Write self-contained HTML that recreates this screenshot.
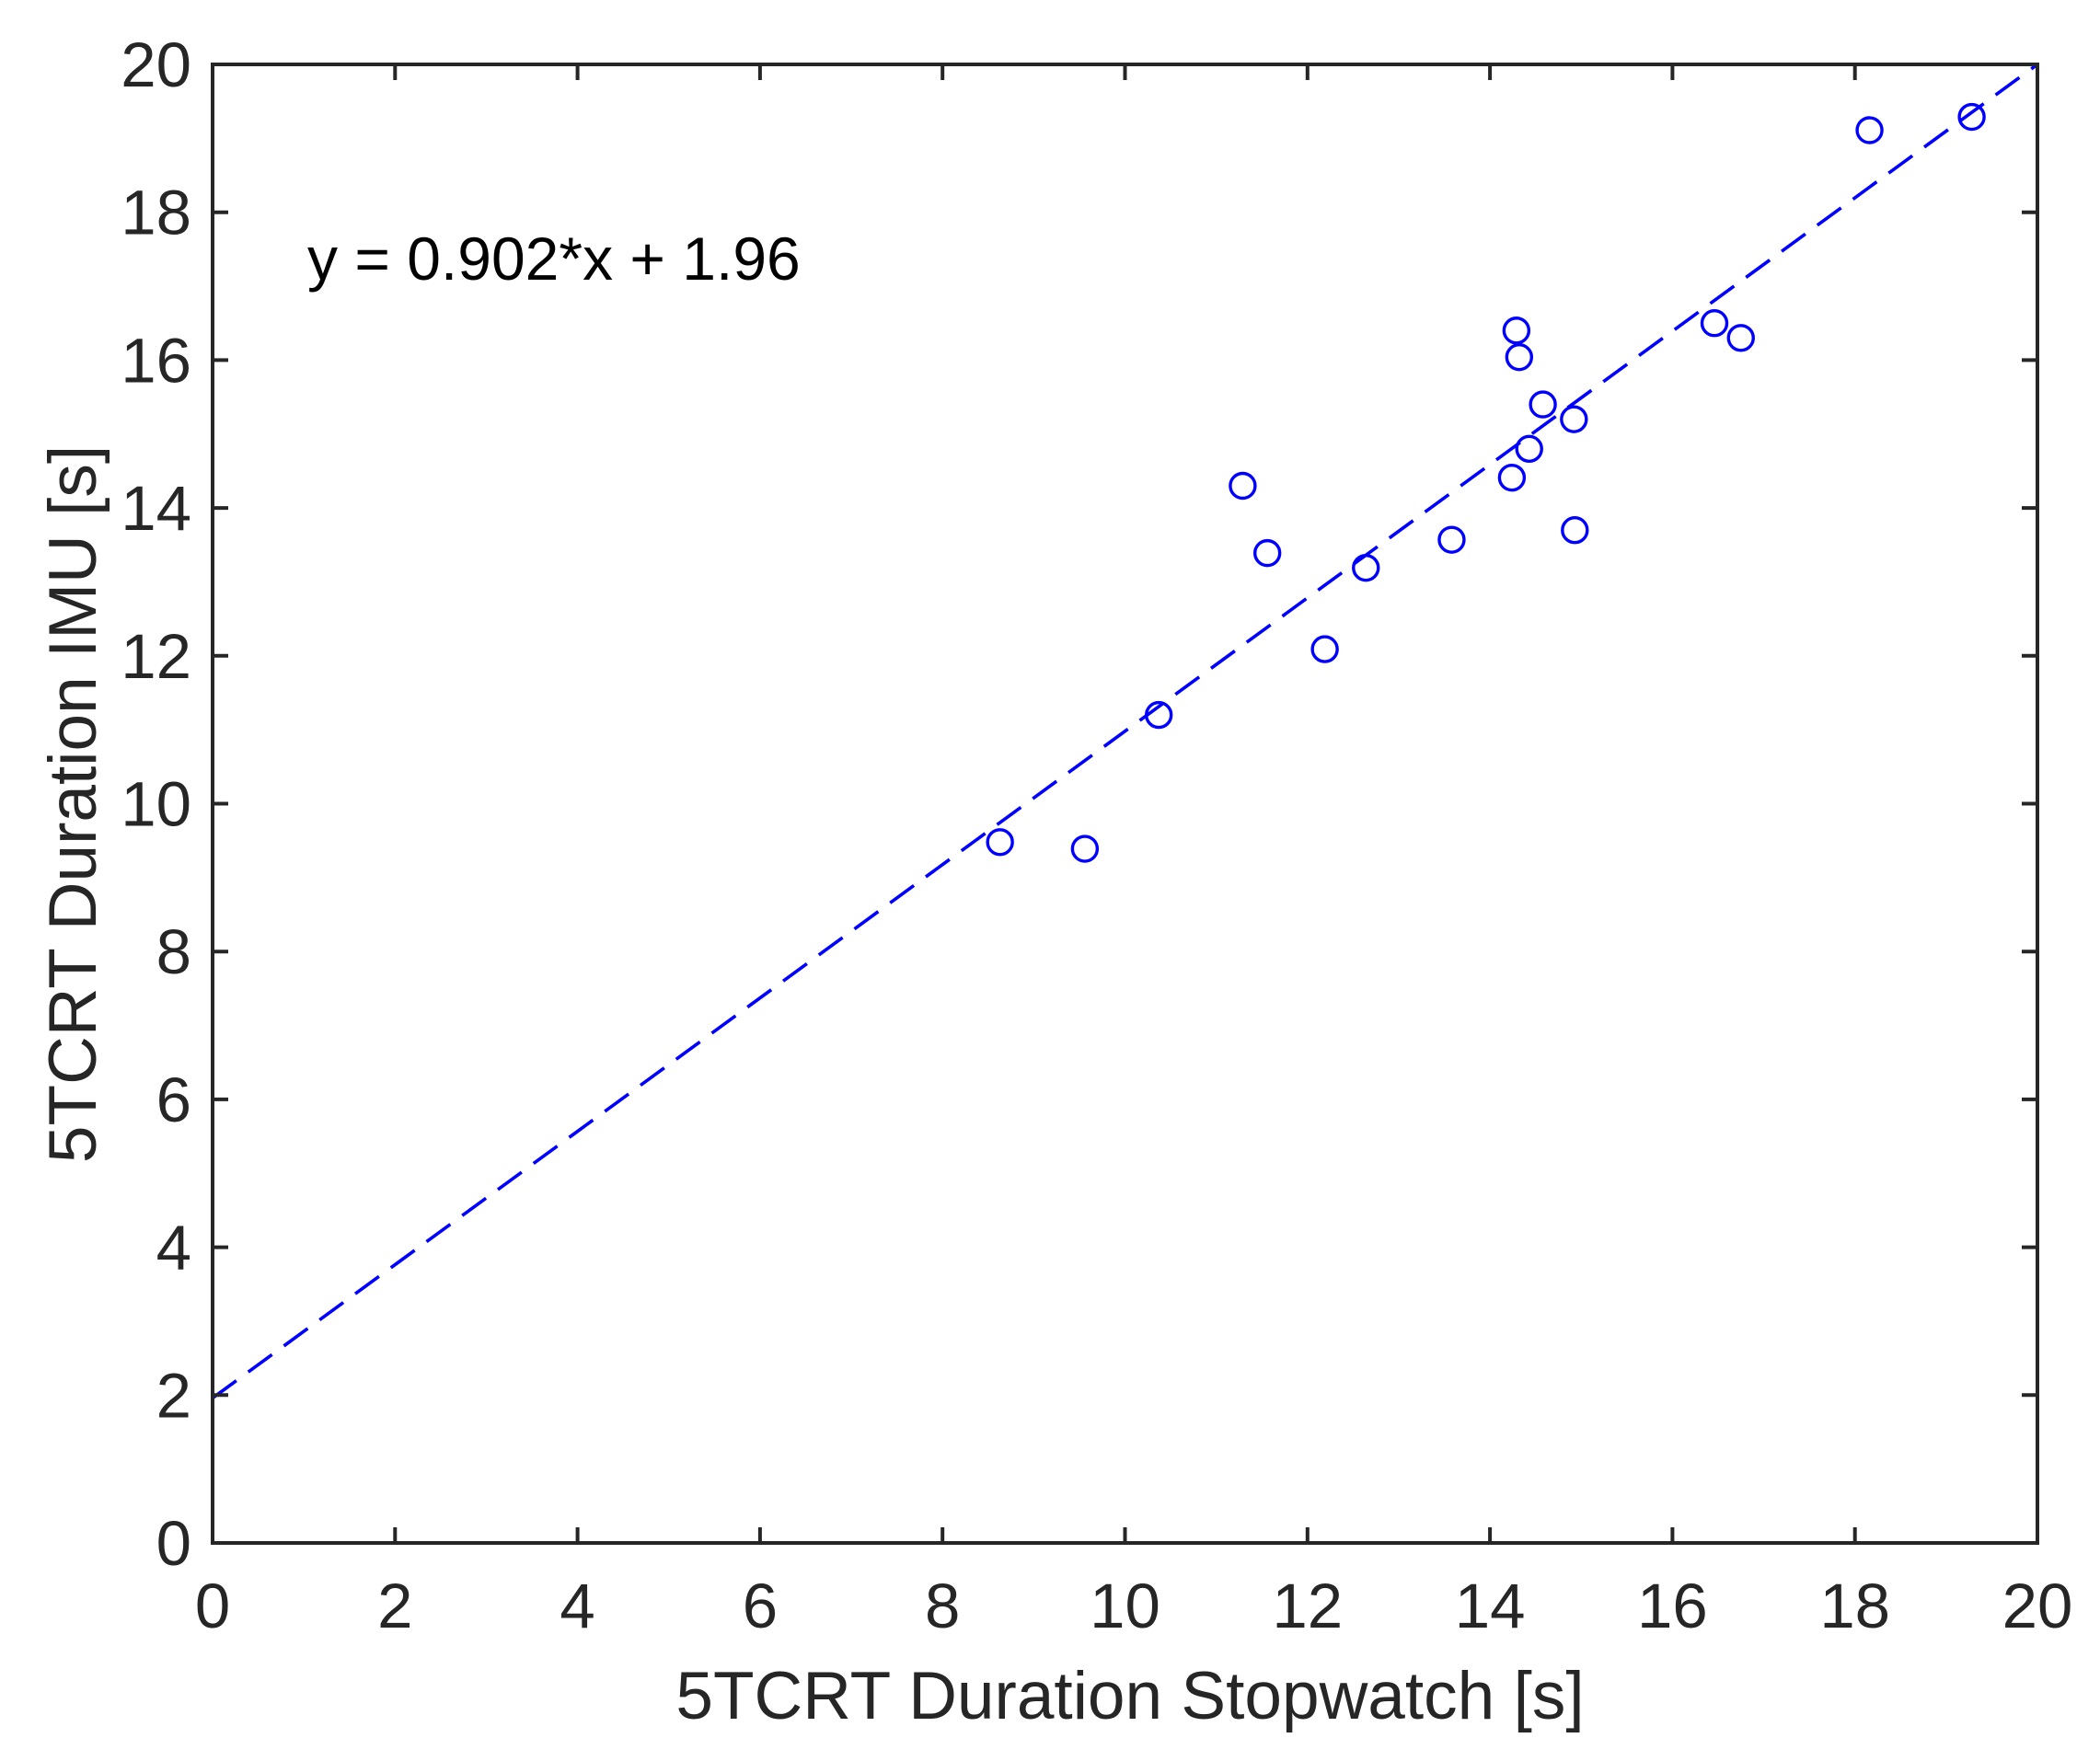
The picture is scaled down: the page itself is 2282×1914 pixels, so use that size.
<!DOCTYPE html>
<html><head><meta charset="utf-8"><style>
html,body{margin:0;padding:0;background:#fff;}
svg{display:block;font-family:"Liberation Sans",Arial,sans-serif;}
</style></head><body>
<svg id="chart" width="2282" height="1914" viewBox="0 0 2282 1914" xmlns="http://www.w3.org/2000/svg">
<rect x="0" y="0" width="2282" height="1914" fill="#fff"/>
<g id="marks"></g>
<rect x="231" y="70" width="1983" height="1607" fill="none" stroke="#262626" stroke-width="4"/>
<g id="ticks"></g>
<text x="334" y="304" font-size="66" fill="#000">y = 0.902*x + 1.96</text>
<text x="1228" y="1868" font-size="73" fill="#262626" text-anchor="middle">5TCRT Duration Stopwatch [s]</text>
<text transform="translate(104,874) rotate(-90)" font-size="73" fill="#262626" text-anchor="middle">5TCRT Duration IMU [s]</text>
</svg>
<script>
const xTicks = [0,2,4,6,8,10,12,14,16,18,20];
const yTicks = [0,2,4,6,8,10,12,14,16,18,20];
const xVals = [8.63,9.56,10.37,11.29,11.56,12.19,12.64,13.58,14.24,14.29,14.32,14.43,14.58,14.92,14.93,16.46,16.75,18.16,19.28];
const yVals = [9.48,9.39,11.2,14.3,13.39,12.09,13.19,13.57,14.41,16.4,16.04,14.8,15.4,15.2,13.7,16.5,16.3,19.11,19.29];
const fitSlope = 0.902;
const fitIntercept = 1.96;

const L=231,R=2214,T=70,B=1677;
const sx=v=>L+(v-0)/(20-0)*(R-L);
const sy=v=>B-(v-0)/(20-0)*(B-T);
const NS="http://www.w3.org/2000/svg";
const marks=document.getElementById('marks');
const ticks=document.getElementById('ticks');
function mk(tag,attrs,parent){const e=document.createElementNS(NS,tag);for(const k in attrs)e.setAttribute(k,attrs[k]);parent.appendChild(e);return e;}

const fit=mk('line',{x1:sx(0),y1:sy(fitIntercept),x2:sx(20),y2:sy(fitIntercept+fitSlope*20),stroke:'#0000ff','stroke-width':3.6,'stroke-dasharray':'32 16',fill:'none'},marks);



xVals.forEach((x,i)=>{
  const c=mk('circle',{cx:sx(x),cy:sy(yVals[i]),r:13.5,fill:'none',stroke:'#0000ff','stroke-width':3.4},marks);
  
  
});

xTicks.forEach(v=>{
  const x=sx(v);
  mk('line',{x1:x,y1:B,x2:x,y2:B-17,stroke:'#262626','stroke-width':4},ticks);
  mk('line',{x1:x,y1:T,x2:x,y2:T+17,stroke:'#262626','stroke-width':4},ticks);
  const t=mk('text',{x:x,y:1769,'font-size':69,fill:'#262626','text-anchor':'middle'},ticks);
  t.textContent=v;
  
  
});
yTicks.forEach(v=>{
  const y=sy(v);
  mk('line',{x1:L,y1:y,x2:L+17,y2:y,stroke:'#262626','stroke-width':4},ticks);
  mk('line',{x1:R,y1:y,x2:R-17,y2:y,stroke:'#262626','stroke-width':4},ticks);
  const t=mk('text',{x:208,y:y+24,'font-size':69,fill:'#262626','text-anchor':'end'},ticks);
  t.textContent=v;
  
  
});
</script>
</body></html>
